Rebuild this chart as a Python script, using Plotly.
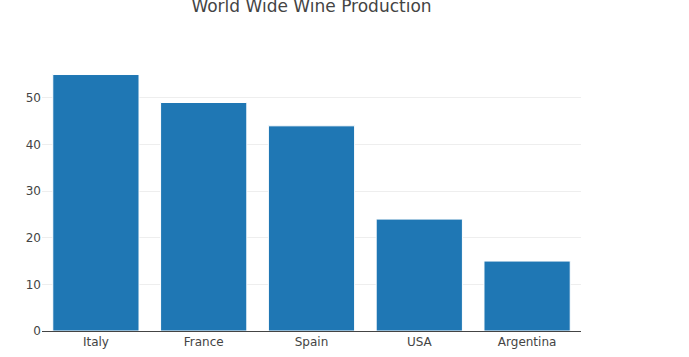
import plotly.graph_objects as go

countries = ["Italy", "France", "Spain", "USA", "Argentina"]
production = [55, 49, 44, 24, 15]

fig = go.Figure(go.Bar(
    x=countries, y=production,
    marker=dict(color="#1f77b4", line=dict(color="#ffffff", width=1)),
))
fig.update_layout(
    width=689, height=357,
    margin=dict(l=42, r=108, t=61, b=26),
    paper_bgcolor="white", plot_bgcolor="white",
    font=dict(family="DejaVu Sans, Verdana, sans-serif", size=12, color="#444"),
    title=dict(text="World Wide Wine Production", x=0.5, xref="paper", xanchor="center",
               y=1 - 6/357, yref="container", yanchor="middle",
               font=dict(size=17, color="#444")),
    bargap=0.2,
    showlegend=False,
)
fig.update_xaxes(showline=True, linecolor="#444", linewidth=1, showgrid=False, ticks="",
                 automargin=False)
fig.update_yaxes(showgrid=True, gridcolor="#eee", zeroline=False, range=[0, 57.9], ticks="",
                 automargin=False)
fig.write_html("out.html")
